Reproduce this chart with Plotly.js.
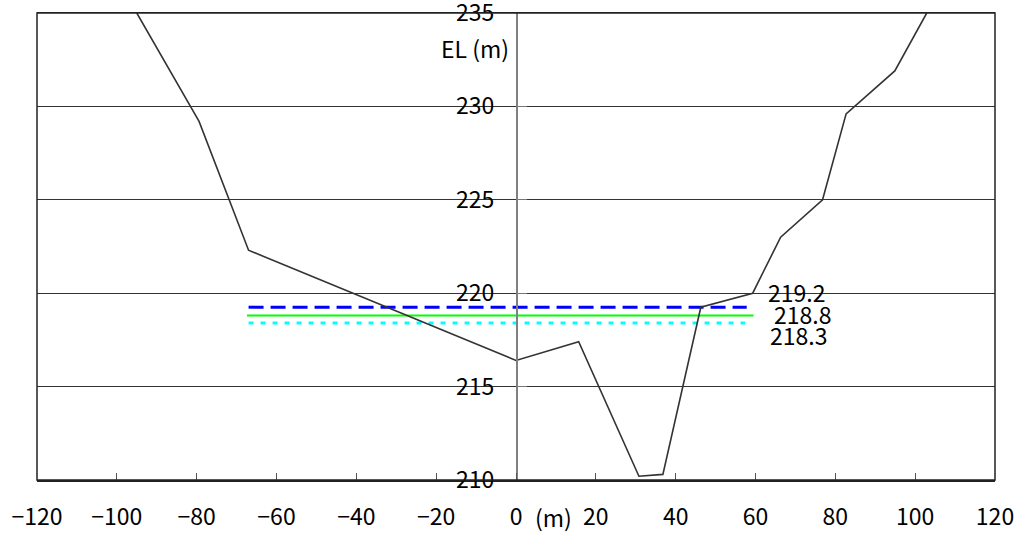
<!DOCTYPE html>
<html>
<head>
<meta charset="utf-8">
<script src="https://cdn.plot.ly/plotly-3.0.1.min.js"></script>
<style>html,body{margin:0;padding:0;background:#fff;}#chart{width:1021px;height:536px;}</style>
</head>
<body>
<div id="chart"></div>
<script>
// Ground profile (distance m, elevation m)
const profileX = [-95, -79.4, -67, 0, 15.7, 30.8, 36.8, 46.3, 59.3, 66.3, 76.8, 82.7, 94.9, 102.9];
const profileY = [235, 229.2, 222.3, 216.4, 217.4, 210.2, 210.3, 219.25, 220.0, 223.0, 225.0, 229.6, 231.9, 235];

// Water levels
const levelValues = [219.25, 218.8, 218.4];
const levelLabels = ["219.2", "218.8", "218.3"];
const levelStart = [-67, -67.4, -67];
const levelEnd = [57.8, 59.5, 57.4];
const labelY = [220.05, 218.9, 217.75];
const labelX = [62.6, 64.1, 63.1];

const xTicks = [-120, -100, -80, -60, -40, -20, 0, 20, 40, 60, 80, 100, 120];
const xTickText = ["\u2212120", "\u2212100", "\u221280", "\u221260", "\u221240", "\u221220", "0", "20", "40", "60", "80", "100", "120"];
const yTicks = [210, 215, 220, 225, 230, 235];

const FONT = '"Noto Sans CJK JP", "Noto Sans", sans-serif';
const FS = 23;
const levelStyles = [
  {color: '#0000ff', width: 3, dash: '15px,7px'},
  {color: '#00ff00', width: 2, dash: 'solid'},
  {color: '#00ffff', width: 3, dash: '5px,7px'}
];

const traces = [];
levelValues.forEach((v, i) => {
  traces.push({
    x: [levelStart[i], levelEnd[i]], y: [v, v], mode: 'lines', type: 'scatter',
    line: levelStyles[i], hoverinfo: 'skip', showlegend: false
  });
});
traces.push({
  x: profileX, y: profileY, mode: 'lines', type: 'scatter',
  line: {color: '#333333', width: 1.6}, showlegend: false
});

const annotations = levelLabels.map((t, i) => ({
  x: labelX[i], y: labelY[i], xref: 'x', yref: 'y', text: t, showarrow: false,
  xanchor: 'left', yanchor: 'middle', height: 20, valign: 'middle',
  font: {family: FONT, size: FS, color: '#000'}
}));
annotations.push({
  x: -1.2, y: 233.1, xref: 'x', yref: 'y', text: 'EL (m)', showarrow: false,
  xanchor: 'right', yanchor: 'middle', font: {family: FONT, size: 23, color: '#000'}
});
annotations.push({
  x: 9.3, y: 0, xref: 'x', yref: 'paper', text: '(m)', showarrow: false,
  xanchor: 'center', yanchor: 'middle', yshift: -37, font: {family: FONT, size: FS, color: '#000'}
});

const layout = {
  width: 1021, height: 536,
  margin: {l: 37, r: 26, t: 13, b: 56, pad: 0},
  paper_bgcolor: '#fff', plot_bgcolor: '#fff',
  font: {family: FONT, size: FS, color: '#000'},
  showlegend: false,
  xaxis: {
    range: [-120, 120], tickmode: 'array', tickvals: xTicks, ticktext: xTickText,
    ticks: 'inside', ticklen: 7, tickcolor: '#555', tickwidth: 1,
    showgrid: false, zeroline: false, showline: true, linecolor: '#222', linewidth: 1.5, mirror: true,
    ticklabelstandoff: 16, ticklabeloverflow: 'allow',
    tickfont: {family: FONT, size: FS, color: '#000'}
  },
  yaxis: {
    range: [210, 235], tickmode: 'array', tickvals: yTicks,
    anchor: 'free', position: 0.5, side: 'left',
    ticks: 'inside', ticklen: 9, tickcolor: '#777', tickwidth: 1,
    showgrid: true, gridcolor: '#333', gridwidth: 1, zeroline: false,
    showline: true, linecolor: '#808080', linewidth: 1.5,
    ticklabelstandoff: 17, ticklabeloverflow: 'allow',
    tickfont: {family: FONT, size: FS, color: '#000'}
  },
  shapes: [
    {type: 'rect', xref: 'paper', yref: 'paper', x0: 0, x1: 1, y0: 0, y1: 1,
     line: {color: '#222', width: 1.5}, fillcolor: 'rgba(0,0,0,0)', layer: 'above'}
  ],
  annotations: annotations
};

Plotly.newPlot('chart', traces, layout, {staticPlot: true, displayModeBar: false});
</script>
</body>
</html>
